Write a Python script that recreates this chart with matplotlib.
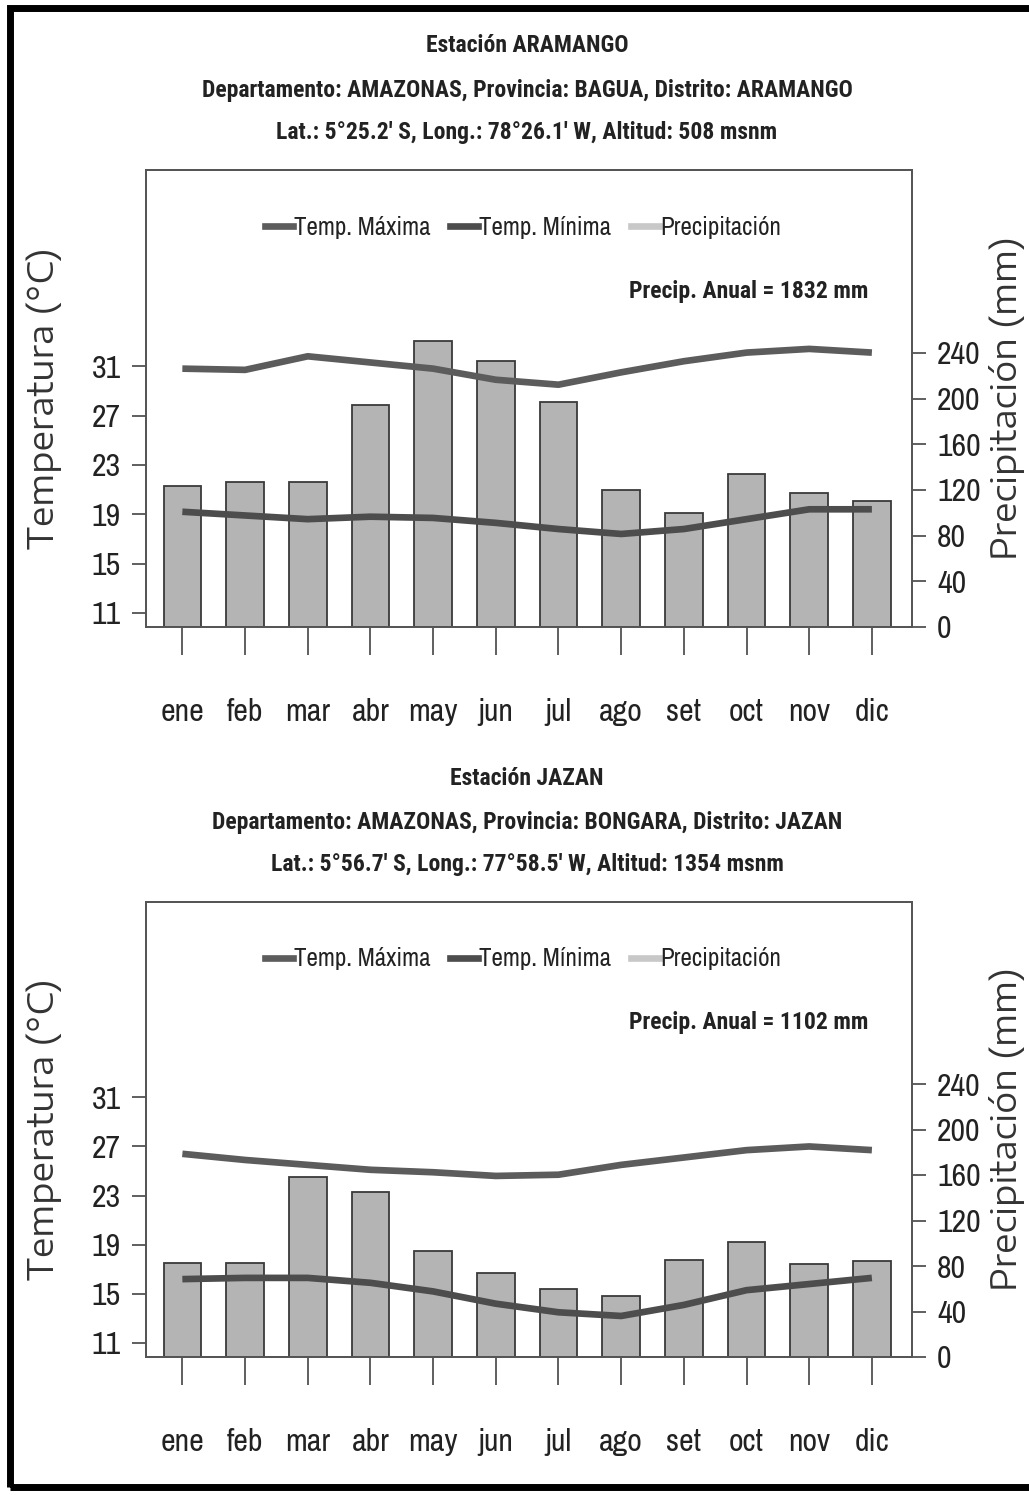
import numpy as np
import matplotlib
matplotlib.use("Agg")
import matplotlib.pyplot as plt
from matplotlib import font_manager as fm
from matplotlib.lines import Line2D
from matplotlib.patches import Rectangle

meses = ["ene", "feb", "mar", "abr", "may", "jun", "jul", "ago", "set", "oct", "nov", "dic"]

# Estacion ARAMANGO
pp_aramango = [123, 127, 127, 194, 250, 233, 197, 120, 100, 134, 117, 110]
tmax_aramango = [30.8, 30.7, 31.8, 31.3, 30.8, 29.9, 29.5, 30.5, 31.4, 32.1, 32.4, 32.1]
tmin_aramango = [19.2, 18.9, 18.6, 18.8, 18.7, 18.3, 17.8, 17.4, 17.8, 18.6, 19.4, 19.4]

# Estacion JAZAN
pp_jazan = [83, 83, 158, 145, 93, 74, 60, 54, 85, 101, 82, 84]
tmax_jazan = [26.4, 25.9, 25.5, 25.1, 24.9, 24.6, 24.7, 25.5, 26.1, 26.7, 27.0, 26.7]
tmin_jazan = [16.2, 16.3, 16.3, 15.9, 15.2, 14.2, 13.5, 13.2, 14.1, 15.3, 15.8, 16.3]

temp_ticks = [11, 15, 19, 23, 27, 31]
pp_ticks = [0, 40, 80, 120, 160, 200, 240]

estaciones = [
    ("Estación ARAMANGO",
     "Departamento: AMAZONAS, Provincia: BAGUA, Distrito: ARAMANGO",
     "Lat.: 5°25.2' S, Long.: 78°26.1' W, Altitud: 508 msnm",
     pp_aramango, tmax_aramango, tmin_aramango),
    ("Estación JAZAN",
     "Departamento: AMAZONAS, Provincia: BONGARA, Distrito: JAZAN",
     "Lat.: 5°56.7' S, Long.: 77°58.5' W, Altitud: 1354 msnm",
     pp_jazan, tmax_jazan, tmin_jazan),
]

# fuentes: estrecha para textos horizontales, ancha para los rotulos de eje
hay = {f.name for f in fm.fontManager.ttflist}
hay_bold = {f.name for f in fm.fontManager.ttflist
            if isinstance(f.weight, int) and f.weight >= 700 and f.style == "normal"}
estrechas = ["Liberation Sans Narrow", "Archivo Narrow", "Roboto Condensed", "PT Sans Narrow",
             "Fira Sans Condensed", "Pragati Narrow", "Asap Condensed", "Barlow Condensed"]

def primera(lista, donde):
    for n in lista:
        if n in donde:
            return n
    return "DejaVu Sans"

NARROW = [primera(estrechas, hay), "DejaVu Sans"]
NARROW_B = [primera(estrechas, hay_bold), "DejaVu Sans"]
WIDE = [primera(["Encode Sans Expanded", "Encode Sans Semi Expanded", "DejaVu Sans"], hay),
        "DejaVu Sans"]

c_max = "#5c5c5c"
c_min = "#4d4d4d"
c_bar = "#b4b4b4"
c_pp = "#c8c8c8"

W, H = 1029, 1495
fig = plt.figure(figsize=(W / 100, H / 100), dpi=100)

# marco exterior
fig.patches.append(Rectangle((10 / W, 8 / H), 1.1, 1 - 16 / H, transform=fig.transFigure,
                             fill=False, lw=5, ec="black"))

# (axes top px, axes bottom px, title lines y px)
layout = [(170, 627, [46, 90, 133]), (902, 1357, [778, 822, 865])]
x = np.arange(12)

for (titulo, depto, coord, pp, tmax, tmin), (top, bot, ty) in zip(estaciones, layout):
    ax = fig.add_axes([146 / W, 1 - bot / H, 766 / W, (bot - top) / H])
    axt = ax.twinx()

    ax.bar(x, pp, width=0.6, color=c_bar, edgecolor="#3a3a3a", linewidth=1.3)
    ax.set_ylim(0, 400)
    ax.set_xlim(-0.58, 11.64)
    ax.set_xticks(x)
    ax.set_xticklabels(meses, family=NARROW, fontsize=23, color="#222222")
    ax.tick_params(axis="x", direction="out", length=20, width=1.2, pad=31, color="#444444")

    axt.plot(x, tmax, color=c_max, lw=4.8, solid_capstyle="butt")
    axt.plot(x, tmin, color=c_min, lw=4.8, solid_capstyle="butt")
    axt.set_ylim(9.86, 46.9)

    # precipitacion a la derecha, temperatura a la izquierda
    ax.yaxis.tick_right()
    ax.set_yticks(pp_ticks)
    axt.yaxis.tick_left()
    axt.set_yticks(temp_ticks)
    for a in (ax, axt):
        a.tick_params(axis="y", direction="out", length=10, width=1.2, pad=8, color="#444444",
                      labelsize=23, labelcolor="#222222")
        for lab in a.get_yticklabels():
            lab.set_family(NARROW)
        for s in a.spines.values():
            s.set_color("#555555")
            s.set_linewidth(1.3)

    yc = 1 - (top + bot) / 2 / H
    fig.text(44 / W, yc, "Temperatura (°C)", rotation=90, ha="center", va="center",
             family=WIDE, fontsize=25, color="#333333")
    fig.text(1007 / W, yc, "Precipitación (mm)", rotation=90, ha="center", va="center",
             family=WIDE, fontsize=25, color="#333333")

    handles = [Line2D([], [], color=c_max, lw=4.8),
               Line2D([], [], color=c_min, lw=4.8),
               Line2D([], [], color=c_pp, lw=4.8)]
    axt.legend(handles, ["Temp. Máxima", "Temp. Mínima", "Precipitación"], ncol=3,
               loc="center", bbox_to_anchor=(0.492, 0.875), frameon=False,
               prop={"family": NARROW, "size": 18}, handlelength=1.1, handletextpad=0.05,
               columnspacing=0.8, labelcolor="#222222")
    axt.text(0.943, 0.735, "Precip. Anual = %d mm" % sum(pp), transform=axt.transAxes,
             ha="right", va="center", family=NARROW_B, fontsize=17, fontweight="bold",
             color="#222222")

    for t, yy in zip([titulo, depto, coord], ty):
        fig.text(527 / W, 1 - yy / H, t, ha="center", va="center", family=NARROW_B,
                 fontsize=17, fontweight="bold", color="#222222")

fig.savefig("out.png", dpi=100)
